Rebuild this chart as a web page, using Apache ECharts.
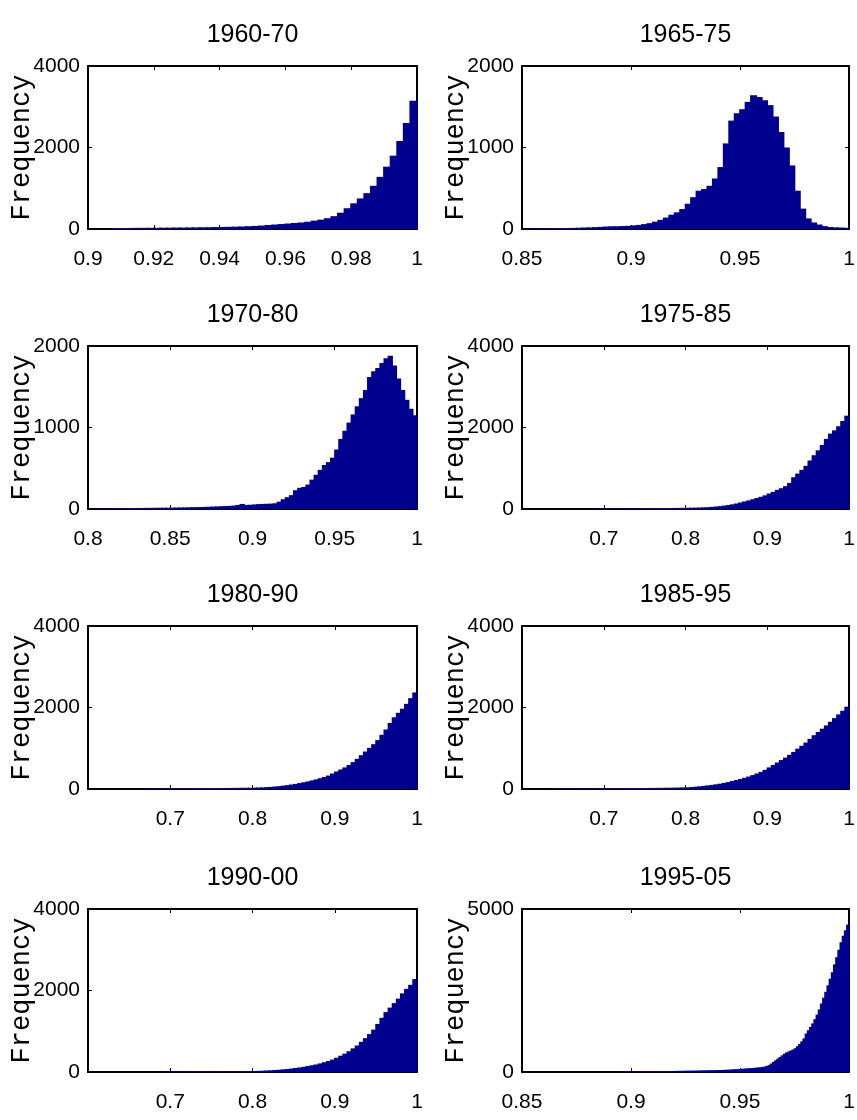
<!DOCTYPE html>
<html>
<head>
<meta charset="utf-8">
<script src="https://cdn.jsdelivr.net/npm/echarts@6/dist/echarts.min.js"></script>
<style>
  html, body { margin: 0; padding: 0; background: #fff; }
  #main { width: 857px; height: 1120px; }
</style>
</head>
<body>
<div id="main"></div>
<script>
const titles = ['1960-70', '1965-75', '1970-80', '1975-85', '1980-90', '1985-95', '1990-00', '1995-05'];

// histogram bins: first edge and bin width for each decade window
const binStarts = [0.908, 0.85, 0.805, 0.69, 0.67, 0.64, 0.695, 0.896];
const binWidths = [0.002, 0.0025, 0.0025, 0.005, 0.005, 0.005, 0.005, 0.001];

// axis ranges
const xMins = [0.9, 0.85, 0.8, 0.6, 0.6, 0.6, 0.6, 0.85];
const xSteps = [0.02, 0.05, 0.05, 0.1, 0.1, 0.1, 0.1, 0.05];
const yMaxes = [4000, 2000, 2000, 4000, 4000, 4000, 4000, 5000];
const ySteps = [2000, 1000, 1000, 2000, 2000, 2000, 2000, 5000];

const freq1960 = [25, 25, 26, 28, 28, 30, 30, 32, 33, 35, 36, 38, 40, 42, 44, 47, 50, 54, 58, 62,
  68, 76, 85, 98, 110, 122, 135, 148, 160, 178, 205, 230, 265, 315, 400, 510, 630, 750, 880, 1060,
  1280, 1530, 1800, 2160, 2600, 3150];

const freq1965 = [5, 6, 7, 8, 9, 10, 11, 12, 13, 14, 16, 18, 20, 23, 26, 30, 33, 34, 36, 39,
  44, 50, 60, 72, 90, 112, 140, 175, 205, 245, 310, 390, 470, 490, 530, 620, 760, 1050, 1330, 1420,
  1470, 1560, 1640, 1620, 1580, 1520, 1380, 1190, 1000, 780, 470, 250, 130, 80, 55, 35, 25, 20, 18, 15];

const freq1970 = [8, 8, 9, 9, 10, 10, 11, 11, 12, 12, 13, 13, 14, 14, 15, 15, 16, 16, 17, 18,
  19, 20, 21, 22, 23, 24, 26, 28, 30, 32, 34, 36, 38, 42, 50, 62, 50, 52, 56, 60,
  62, 64, 66, 70, 90, 120, 145, 170, 230, 260, 270, 300, 360, 420, 480, 540, 575, 630, 730, 860,
  960, 1060, 1160, 1260, 1360, 1460, 1620, 1690, 1730, 1790, 1850, 1880, 1760, 1600, 1460, 1340, 1230, 1150];

const freq1975 = [14, 14, 15, 15, 15, 16, 16, 16, 17, 17, 18, 18, 19, 20, 21, 22, 23, 24, 25, 26, 27, 28,
  30, 32, 34, 37, 40, 45, 52, 60, 70, 82,
  98, 115, 135, 160, 185, 210, 240, 270, 300, 335,
  380, 420, 470, 510, 560, 640, 780, 870, 960, 1060,
  1190, 1320, 1440, 1570, 1720, 1850, 1930, 2030, 2160, 2290];

const freq1980 = [15, 15, 16, 16, 17, 17, 18, 18, 19, 19, 20, 20, 21, 21, 22, 22, 23, 23, 24, 25, 26, 27, 28, 29, 30, 31,
  33, 36, 40, 45, 52, 60, 70, 82, 95, 110,
  125, 145, 165, 185, 210, 235, 265, 295, 330, 380,
  430, 480, 530, 590, 660, 740, 830, 920, 1010, 1100,
  1200, 1330, 1460, 1620, 1760, 1870, 1970, 2090, 2230, 2370];

const freq1985 = [15, 15, 15, 15, 16, 16, 16, 16, 17, 17, 17, 18, 18, 18, 19, 19, 20, 20, 21, 22,
  23, 24, 25, 26, 27, 28, 29, 30, 32, 34, 36, 38,
  42, 48, 56, 65, 76, 88, 100, 115, 130, 150,
  170, 195, 220, 245, 275, 305, 340, 380, 420, 470,
  530, 590, 650, 710, 770, 840, 910, 990, 1060, 1140,
  1230, 1320, 1400, 1480, 1560, 1650, 1740, 1830, 1920, 2020];

const freq1990 = [14, 14, 14, 15, 15, 15, 15, 16, 16, 16, 17, 17, 17, 18, 18, 19, 19, 20, 21, 22, 23,
  25, 28, 32, 36, 42, 48, 56, 64, 74, 85,
  98, 112, 128, 145, 165, 185, 210, 240, 270, 305,
  350, 400, 450, 510, 580, 650, 740, 830, 930, 1040,
  1180, 1330, 1470, 1580, 1690, 1800, 1930, 2040, 2140, 2280];

const freq1995 = [18, 18, 19, 19, 20, 20, 21, 21, 22, 22, 23, 23, 24, 24,
  25, 25, 26, 27, 28, 28, 29, 30, 31, 32,
  33, 34, 35, 36, 37, 38, 39, 40, 41, 42,
  43, 44, 46, 47, 49, 50, 52, 54, 56, 58,
  60, 62, 64, 67, 70, 73, 77, 81, 85, 90,
  95, 100, 105, 110, 115, 120, 126, 132, 138, 145,
  155, 165, 185, 215, 260, 310, 360, 410, 460, 510,
  560, 600, 630, 660, 690, 730, 790, 860, 940, 1030,
  1180, 1280, 1380, 1490, 1620, 1760, 1920, 2100, 2280, 2460,
  2660, 2860, 3060, 3300, 3520, 3750, 3980, 4180, 4350, 4520];

const freqs = [freq1960, freq1965, freq1970, freq1975, freq1980, freq1985, freq1990, freq1995];

const barColor = '#00008f';
const labelFont = "'Liberation Sans Narrow', 'Liberation Sans', Arial, sans-serif";
const colLefts = [88, 522];
const colWidths = [329, 327];
const rowTops = [66, 346, 626, 909];
const plotHeight = 163;

let myChart = echarts.init(document.getElementById('main'));

let grids = [];
let xAxes = [];
let yAxes = [];
let seriesList = [];
let titleList = [];

const frameLine = { show: true, onZero: false, lineStyle: { color: '#000', width: 2 } };
const tickIn = { show: true, inside: true, length: 4, lineStyle: { color: '#000', width: 1 } };

titles.forEach(function (name, i) {
  const col = i % 2;
  const row = Math.floor(i / 2);
  const left = colLefts[col];
  const top = rowTops[row];

  grids.push({
    left: left,
    top: top,
    width: colWidths[col],
    height: plotHeight,
    containLabel: false,
    outerBoundsMode: 'none'
  });

  titleList.push({
    text: name,
    left: left + colWidths[col] / 2,
    textAlign: 'center',
    top: top - 43,
    padding: 0,
    textStyle: {
      fontFamily: "'Liberation Sans', Arial, sans-serif",
      fontWeight: 'normal',
      fontSize: 25,
      color: '#000'
    }
  });

  // bottom and top x axes (top one only mirrors ticks)
  xAxes.push({
    type: 'value',
    gridIndex: i,
    position: 'bottom',
    min: xMins[i],
    max: 1,
    interval: xSteps[i],
    axisLine: frameLine,
    axisTick: tickIn,
    splitLine: { show: false },
    axisLabel: {
      color: '#000',
      fontFamily: labelFont,
      fontSize: 21,
      margin: 20,
      showMinLabel: xMins[i] !== 0.6
    }
  });
  xAxes.push({
    type: 'value',
    gridIndex: i,
    position: 'top',
    min: xMins[i],
    max: 1,
    interval: xSteps[i],
    axisLine: frameLine,
    axisTick: tickIn,
    splitLine: { show: false },
    axisLabel: { show: false }
  });

  yAxes.push({
    type: 'value',
    gridIndex: i,
    position: 'left',
    min: 0,
    max: yMaxes[i],
    interval: ySteps[i],
    name: 'Frequency',
    nameLocation: 'middle',
    nameGap: 53,
    nameMoveOverlap: false,
    nameTextStyle: {
      fontFamily: "'Liberation Mono', 'DejaVu Sans Mono', monospace",
      fontSize: 27,
      color: '#000'
    },
    axisLine: frameLine,
    axisTick: tickIn,
    splitLine: { show: false },
    axisLabel: {
      color: '#000',
      fontFamily: labelFont,
      fontSize: 21,
      margin: 8,
      formatter: function (v) { return String(v); }
    }
  });
  yAxes.push({
    type: 'value',
    gridIndex: i,
    position: 'right',
    min: 0,
    max: yMaxes[i],
    interval: ySteps[i],
    axisLine: frameLine,
    axisTick: tickIn,
    splitLine: { show: false },
    axisLabel: { show: false }
  });

  const data = freqs[i].map(function (v, k) {
    return [binStarts[i] + (k + 0.5) * binWidths[i], v];
  });

  // wider than the bin so neighbouring bars overlap (no AA seams)
  seriesList.push({
    name: name,
    type: 'bar',
    xAxisIndex: 2 * i,
    yAxisIndex: 2 * i,
    barWidth: binWidths[i] < 0.002 ? '170%' : '130%',
    itemStyle: {
      color: barColor,
      borderWidth: 0
    },
    silent: true,
    animation: false,
    data: data
  });
});

let option = {
  backgroundColor: '#fff',
  animation: false,
  title: titleList,
  grid: grids,
  xAxis: xAxes,
  yAxis: yAxes,
  series: seriesList
};

myChart.setOption(option);
</script>
</body>
</html>
